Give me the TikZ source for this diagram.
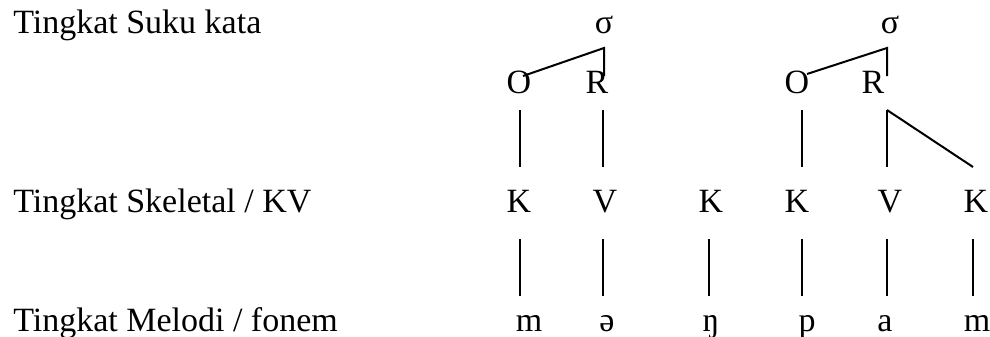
\documentclass[tikz,border=0pt]{standalone}
\usepackage{fontspec}
\setmainfont{Liberation Serif}
\usetikzlibrary{calc}
\newcommand*{\levelfont}{\fontsize{25.5}{30}\selectfont}

\begin{document}
\begin{tikzpicture}[
        x=0.75pt,y=-0.75pt,
        every node/.style={inner sep=0pt, anchor=base, font=\levelfont},
        level/.style={anchor=base west},
        tie/.style={line width=1.5pt},
        ]
        \useasboundingbox (0,0) rectangle (990,336);

        % level names
        \node[level] (lsuku) at (13,33)  {Tingkat Suku kata};
        \node[level] (lskel) at (13,212) {Tingkat Skeletal / KV};
        \node[level] (lmel)  at (13,331) {Tingkat Melodi / fonem};

        % syllables
        \node (s1) at (604,33) {σ};
        \node (s2) at (890,33) {σ};
        \node (o1) at (519,93) {O};
        \node (r1) at (597,93) {R};
        \node (o2) at (797,93) {O};
        \node (r2) at (873,93) {R};

        % skeleton
        \node (k1) at (519,212) {K};
        \node (v1) at (605,212) {V};
        \node (k2) at (711,212) {K};
        \node (k3) at (797,212) {K};
        \node (v2) at (890,212) {V};
        \node (k4) at (976,212) {K};

        % melody
        \node (m1) at (529,331) {m};
        \node (e1) at (607,331) {ə};
        \node (n1) at (711,331) {ŋ};
        \node (p1) at (807,331) {p};
        \node (a1) at (885,331) {a};
        \node (m2) at (977,331) {m};

        \coordinate (c1) at ($(s1.base)+(0,15)$);
        \coordinate (c2) at ($(s2.base)+(-3,15)$);
        \draw[tie] ($(o1.base)+(4,-17)$) -- (c1) -- ($(r1.base)+(7,-17)$);
        \draw[tie] ($(o2.base)+(10,-19)$) -- (c2) -- ($(r2.base)+(14,-17)$);

        \foreach \hi/\lo/\dhi/\dlo in {o1/k1/1/1, r1/v1/6/-2, o2/k3/5/5, r2/v2/14/-3, r2/k4/14/-3}
          \draw[tie] ($(\hi.base)+(\dhi,17)$) -- ($(\lo.base)+(\dlo,-45)$);

        \foreach \hi/\lo/\dhi/\dlo in {k1/m1/1/-9, v1/e1/-2/-4, k2/n1/-2/-2, k3/p1/5/-5, v2/a1/-3/2, k4/m2/-3/-4}
          \draw[tie] ($(\hi.base)+(\dhi,27)$) -- ($(\lo.base)+(\dlo,-35)$);
\end{tikzpicture}
\end{document}
